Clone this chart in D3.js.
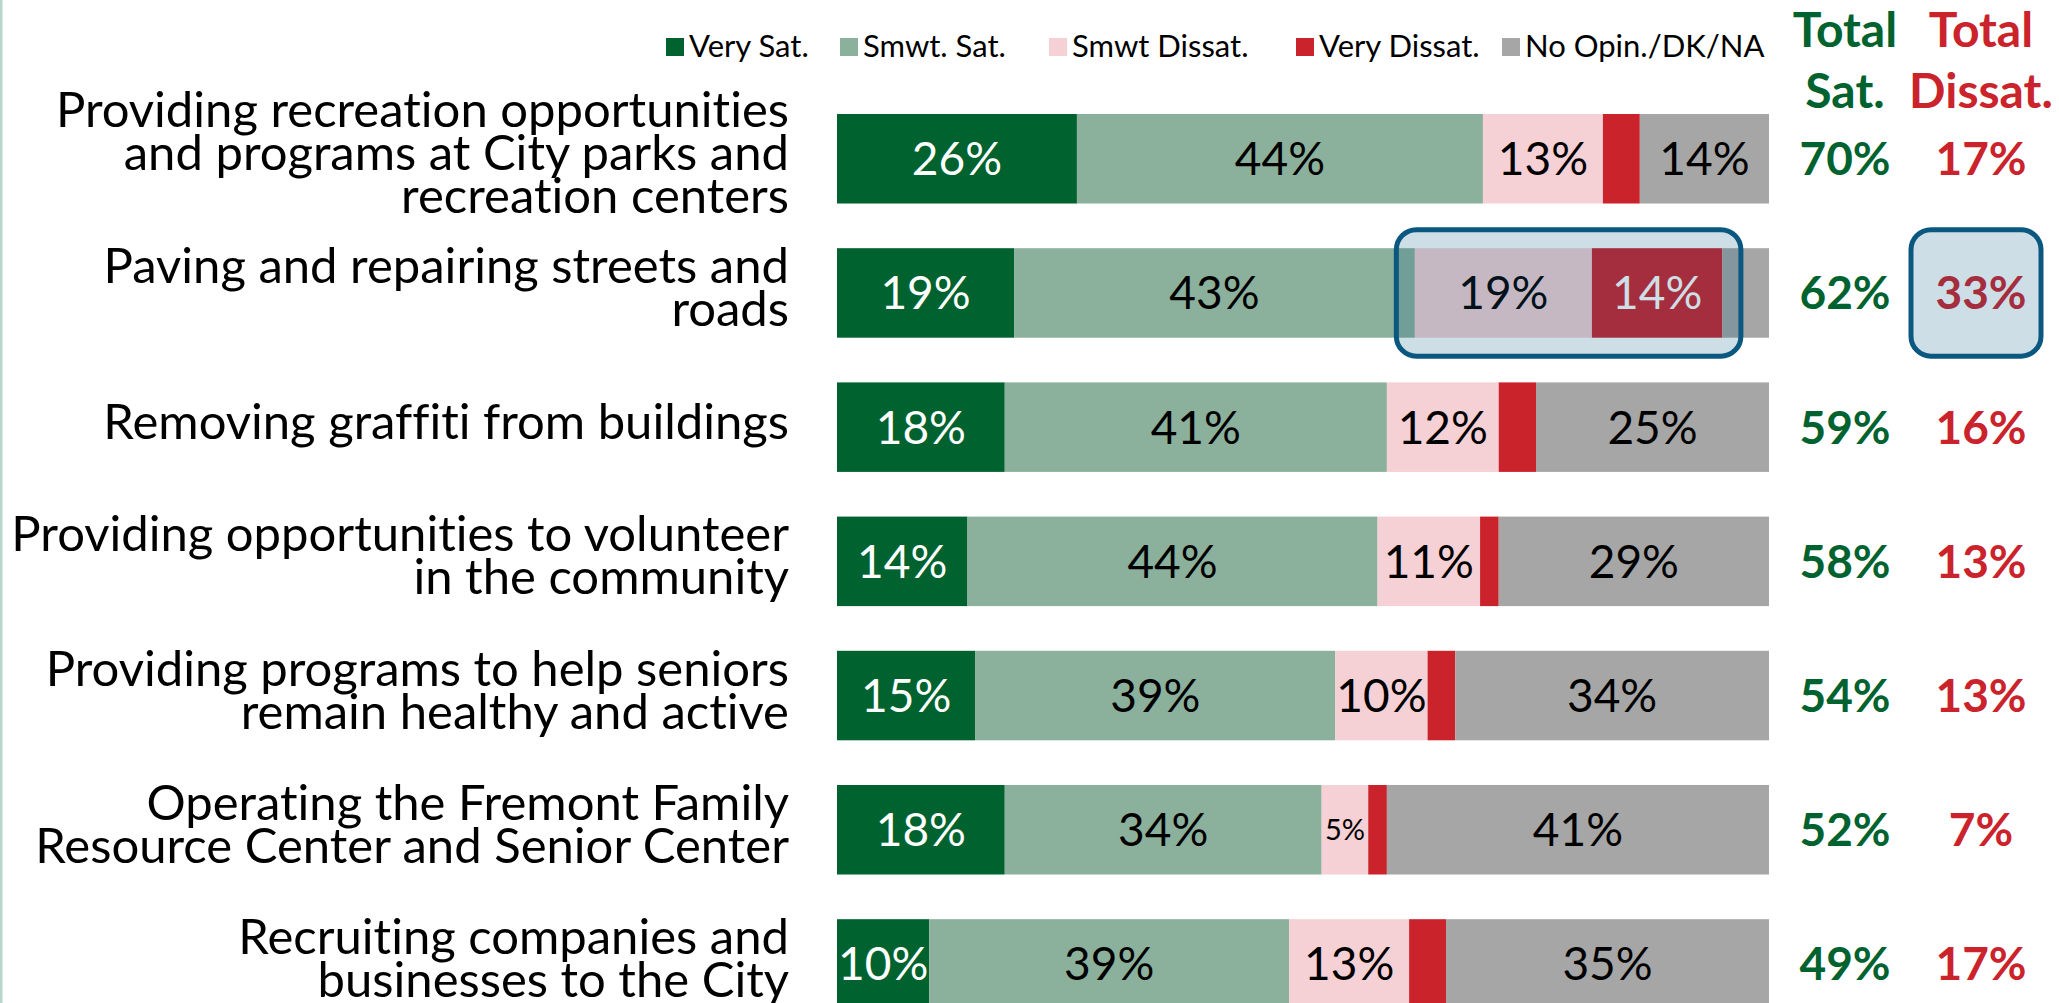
<!DOCTYPE html>
<html>
<head>
<meta charset="utf-8">
<script src="https://cdn.jsdelivr.net/npm/d3@7"></script>
<style>
  html, body { margin: 0; padding: 0; background: #ffffff; overflow: hidden; }
  svg { display: block; }
  text { font-variant-ligatures: none; font-feature-settings: "liga" 0, "clig" 0; }
</style>
</head>
<body>
<svg id="chart" width="2059" height="1003"></svg>
<script>
// ---- data ----
const categories = [
  ["Providing recreation opportunities", "and programs at City parks and", "recreation centers"],
  ["Paving and repairing streets and", "roads"],
  ["Removing graffiti from buildings"],
  ["Providing opportunities to volunteer", "in the community"],
  ["Providing programs to help seniors", "remain healthy and active"],
  ["Operating the Fremont Family", "Resource Center and Senior Center"],
  ["Recruiting companies and", "businesses to the City"]
];
const seriesNames = ["Very Sat.", "Smwt. Sat.", "Smwt Dissat.", "Very Dissat.", "No Opin./DK/NA"];
const verySat    = [26, 19, 18, 14, 15, 18, 10];
const smwtSat    = [44, 43, 41, 44, 39, 34, 39];
const smwtDissat = [13, 19, 12, 11, 10,  5, 13];
const veryDissat = [ 4, 14,  4,  2,  3,  2,  4];
const noOpinion  = [14,  5, 25, 29, 34, 41, 35];
const totalSat    = [70, 62, 59, 58, 54, 52, 49];
const totalDissat = [17, 33, 16, 13, 13,  7, 17];
const headerSat    = ["Total", "Sat."];
const headerDissat = ["Total", "Dissat."];
// row whose dissatisfaction is called out
const calloutRow = 1;

// ---- styling ----
const W = 2059, H = 1003;
const FONT = "Lato, 'Open Sans', 'DejaVu Sans', sans-serif";
const seriesColors = ["#00622f", "#8bb09c", "#f5d0d4", "#cb232c", "#a6a6a6"];
const seriesText   = ["#ffffff", "#000000", "#000000", "#ffffff", "#000000"];
// smallest share that gets an in-bar label, per series
const minLabel     = [5, 5, 5, 5, 10];
const GREEN = "#00622f", RED = "#cb232c", CALLOUT = "#0a5880";

const series = [verySat, smwtSat, smwtDissat, veryDissat, noOpinion];

const svg = d3.select("#chart");

// faint rule along the left edge
svg.append("rect").attr("x", 0).attr("y", 0).attr("width", 2.5).attr("height", H)
  .attr("fill", "#b8d4cb");

// ---- scales ----
const rowIdx = d3.range(categories.length);
const x = d3.scaleLinear().domain([0, 1]).range([837, 1769]);
const y = d3.scaleBand().domain(rowIdx).range([114, 1008.7]).paddingInner(0.333).paddingOuter(0);
const bw = y.bandwidth();

// stacked shares per row (each row normalised to its own total)
const rows = rowIdx.map(i => {
  const vals = series.map(s => s[i]);
  const sum = d3.sum(vals);
  let acc = 0;
  const segs = vals.map((v, k) => {
    const s = { row: i, k, value: v, x0: acc / sum, x1: (acc + v) / sum };
    acc += v;
    return s;
  });
  return { i, segs };
});

// ---- bars ----
const gBars = svg.append("g");
rows.forEach(r => {
  const g = gBars.append("g");
  g.selectAll("rect").data(r.segs).join("rect")
    .attr("x", d => x(d.x0))
    .attr("y", y(r.i))
    .attr("width", d => x(d.x1) - x(d.x0))
    .attr("height", bw)
    .attr("fill", d => seriesColors[d.k]);

  g.selectAll("text").data(r.segs.filter(d => d.value >= minLabel[d.k])).join("text")
    .attr("x", d => (x(d.x0) + x(d.x1)) / 2)
    .attr("y", d => y(r.i) + bw / 2 + (d.value < 8 ? 10.5 : 16.5))
    .attr("text-anchor", "middle")
    .attr("font-family", FONT)
    .attr("font-size", d => d.value < 8 ? 29 : 46)
    .attr("fill", d => seriesText[d.k])
    .text(d => d.value + "%");
});

// ---- category labels ----
const LABEL_FS = 49, LINE_H = 43;
const gLab = svg.append("g");
categories.forEach((lines, i) => {
  const c = y(i) + bw / 2 - 6;
  const t = gLab.append("text")
    .attr("text-anchor", "end")
    .attr("font-family", FONT)
    .attr("font-size", LABEL_FS)
    .attr("fill", "#000");
  lines.forEach((ln, k) => {
    t.append("tspan")
      .attr("x", 789)
      .attr("y", c + (k - (lines.length - 1) / 2) * LINE_H + LABEL_FS * 0.358)
      .text(ln);
  });
});

// ---- totals columns ----
const colSat = 1845, colDis = 1981;
const TOT_FS = 46;
function totals(values, cx, color) {
  svg.append("g").selectAll("text").data(values).join("text")
    .attr("x", cx)
    .attr("y", (d, i) => y(i) + bw / 2 + TOT_FS * 0.358)
    .attr("text-anchor", "middle")
    .attr("font-family", FONT)
    .attr("font-weight", 700)
    .attr("font-size", TOT_FS)
    .attr("fill", color)
    .text(d => d + "%");
}
totals(totalSat, colSat, GREEN);
totals(totalDissat, colDis, RED);

function header(lines, cx, color) {
  svg.append("g").selectAll("text").data(lines).join("text")
    .attr("x", cx)
    .attr("y", (d, k) => 47 + k * 61)
    .attr("text-anchor", "middle")
    .attr("font-family", FONT)
    .attr("font-weight", 700)
    .attr("font-size", 48)
    .attr("fill", color)
    .text(d => d);
}
header(headerSat, colSat, GREEN);
header(headerDissat, colDis, RED);

// ---- legend ----
const legendX = [666, 840, 1049, 1296, 1502];
const gLeg = svg.append("g");
seriesNames.forEach((name, k) => {
  gLeg.append("rect").attr("x", legendX[k]).attr("y", 38).attr("width", 18).attr("height", 18)
    .attr("fill", seriesColors[k]);
  gLeg.append("text")
    .attr("x", legendX[k] + 23).attr("y", 57)
    .attr("font-family", FONT).attr("font-size", 31).attr("fill", "#000")
    .text(name);
});

// ---- callout boxes over the dissatisfied share ----
const cr = rows[calloutRow];
const d0 = cr.segs[2].x0, d1 = cr.segs[3].x1;
const gCall = svg.append("g");
gCall.append("rect")
  .attr("x", x(d0) - 18.5).attr("y", y(calloutRow) - 18.5)
  .attr("width", x(d1) - x(d0) + 37).attr("height", bw + 37)
  .attr("rx", 20).attr("ry", 20)
  .attr("fill", CALLOUT).attr("fill-opacity", 0.2)
  .attr("stroke", CALLOUT).attr("stroke-width", 5);
gCall.append("rect")
  .attr("x", colDis - 70).attr("y", y(calloutRow) - 18.5)
  .attr("width", 130).attr("height", bw + 37)
  .attr("rx", 20).attr("ry", 20)
  .attr("fill", CALLOUT).attr("fill-opacity", 0.2)
  .attr("stroke", CALLOUT).attr("stroke-width", 5);
</script>
</body>
</html>
